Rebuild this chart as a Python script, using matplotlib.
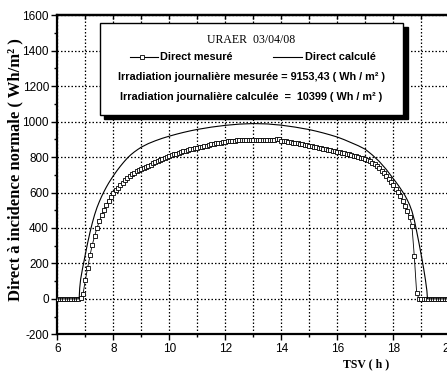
import numpy as np
import matplotlib
matplotlib.use("Agg")
import matplotlib.pyplot as plt
from matplotlib.patches import Rectangle
from matplotlib.lines import Line2D

plt.rcParams['axes.unicode_minus'] = False

# measured direct normal irradiance, one value every 5 min from 6h00 to 20h00
measured = [
    0, 0, 0, 0, 0, 0, 0, 0, 0, 0, 3, 25,
    105, 175, 245, 305, 355, 400, 437, 473, 502, 530, 552, 575,
    596, 612, 625, 640, 655, 668, 680, 692, 703, 712, 720, 727,
    733, 740, 746, 752, 758, 764, 770, 776, 782, 788, 794, 800,
    806, 811, 815, 820, 824, 828, 832, 836, 840, 843, 847, 850,
    853, 856, 859, 862, 865, 868, 871, 874, 877, 880, 882, 885,
    887, 889, 891, 892, 893, 894, 895, 896, 895, 897, 896, 897,
    896, 898, 897, 896, 898, 897, 896, 895, 894, 895, 900, 904,
    893, 889, 888, 886, 884, 881, 878, 877, 874, 871, 868, 866,
    863, 860, 858, 856, 853, 850, 848, 846, 842, 839, 836, 834,
    831, 827, 824, 822, 818, 815, 812, 808, 804, 800, 796, 792,
    788, 782, 776, 768, 760, 750, 738, 724, 708, 692, 676, 658,
    640, 622, 602, 578, 552, 525, 496, 460, 410, 240, 35, 0,
    0, 0, 0, 0, 0, 0, 0, 0, 0, 0, 0, 0,
    0,
]
hours_mes = 6 + np.arange(len(measured)) * 5 / 60

# calculated direct normal irradiance
calc_hours = [6.0, 6.78, 6.80, 6.833, 6.9, 6.95, 7.0, 7.083, 7.167, 7.25,
              7.333, 7.417, 7.5, 7.583, 7.667, 7.75, 7.833, 7.917, 8.0, 8.125,
              8.25, 8.375, 8.5, 8.625, 8.75, 8.875, 9.0, 9.25, 9.5, 9.75,
              10.0, 10.25, 10.5, 10.75, 11.0, 11.5, 12.0, 12.5, 13.0, 13.5,
              14.0, 14.5, 15.0, 15.25, 15.5, 15.75, 16.0, 16.25, 16.5, 16.75,
              17.0, 17.25, 17.5, 17.75, 18.0, 18.083, 18.167, 18.25, 18.333, 18.417,
              18.5, 18.583, 18.667, 18.75, 18.833, 18.917, 19.0, 19.083, 19.15, 19.2,
              19.22, 20.0]
calc_vals = [0, 0, 60, 110, 170, 210, 250, 315, 375, 428,
             475, 515, 548, 578, 605, 630, 653, 674, 694, 722,
             748, 772, 794, 813, 829, 843, 856, 876, 892, 906,
             918, 929, 939, 948, 956, 969, 979, 986, 989, 987,
             980, 969, 955, 946, 936, 925, 913, 898, 881, 864,
             844, 812, 775, 730, 678, 661, 643, 624, 604, 583,
             558, 530, 494, 445, 382, 315, 245, 172, 105, 45,
             0, 0]

W, H = 447, 372
fig = plt.figure(figsize=(W / 100, H / 100), dpi=100)
ax = fig.add_axes([57.3 / W, 1 - 334.3 / H, 392 / W, 319 / H])

ax.plot(hours_mes, measured, color='black', lw=0.6, marker='s', ms=2.8,
        mfc='white', mec='black', mew=0.6, zorder=3)
ax.plot(calc_hours, calc_vals, color='black', lw=0.8, zorder=4)

ax.set_xlim(6, 20)
ax.set_ylim(-200, 1600)
ax.set_xticks(range(6, 21, 2))
ax.set_xticks(range(7, 20, 2), minor=True)
ax.set_yticks(range(-200, 1601, 200))
ax.set_yticks(range(-100, 1600, 200), minor=True)

dots = (0, (1.2, 1.6))
ax.xaxis.grid(True, which='both', color='black', ls=dots, lw=0.9)
ax.yaxis.grid(True, which='major', color='black', ls=dots, lw=0.9)

for s in ['left', 'bottom', 'top']:
    ax.spines[s].set_linewidth(1.6)
ax.spines['right'].set_visible(False)
ax.tick_params(which='major', direction='out', length=4, width=1, pad=2,
               labelsize=8.5)
ax.tick_params(which='minor', direction='out', length=2.5, width=1)
for lab in ax.get_xticklabels() + ax.get_yticklabels():
    lab.set_family('Liberation Sans')

sec = ax.secondary_xaxis('top')
sec.set_xticks(range(6, 21))
sec.tick_params(direction='in', length=3, width=1, labeltop=False)
sec.spines['top'].set_linewidth(1.6)


def fx(px):
    return px / W


def fy(py):
    return 1 - py / H


# legend box with shadow
fig.add_artist(Rectangle((fx(104), fy(119)), fx(408) - fx(104), fy(27) - fy(119),
                         transform=fig.transFigure, facecolor='black',
                         edgecolor='black', zorder=5))
fig.add_artist(Rectangle((fx(100), fy(115)), fx(403) - fx(100), fy(23) - fy(115),
                         transform=fig.transFigure, facecolor='white',
                         edgecolor='black', lw=1, zorder=6))

fig.text(fx(251), fy(40), 'URAER  03/04/08', family='Liberation Serif',
         fontsize=8.5, ha='center', va='center', zorder=7)
fig.add_artist(Line2D([fx(130), fx(158)], [fy(57), fy(57)], color='black', lw=0.8,
                      transform=fig.transFigure, zorder=7))
fig.add_artist(Line2D([fx(142)], [fy(57)], marker='s', ms=2.8, mfc='white',
                      mec='black', mew=0.6, transform=fig.transFigure, zorder=8))
fig.text(fx(160), fy(57), 'Direct mesuré', family='Liberation Sans',
         weight='bold', fontsize=7.8, ha='left', va='center', zorder=7)
fig.add_artist(Line2D([fx(273), fx(302)], [fy(57), fy(57)], color='black', lw=0.8,
                      transform=fig.transFigure, zorder=7))
fig.text(fx(305), fy(57), 'Direct calculé', family='Liberation Sans',
         weight='bold', fontsize=7.8, ha='left', va='center', zorder=7)
fig.text(fx(251), fy(77), 'Irradiation journalière mesurée = 9153,43 ( Wh / m² )',
         family='Liberation Sans', weight='bold', fontsize=7.8,
         ha='center', va='center', zorder=7)
fig.text(fx(251), fy(97), 'Irradiation journalière calculée  =  10399 ( Wh / m² )',
         family='Liberation Sans', weight='bold', fontsize=7.8,
         ha='center', va='center', zorder=7)

fig.text(fx(366), fy(364), 'TSV ( h )', family='Liberation Serif', weight='bold',
         fontsize=8.5, ha='center', va='center')
fig.text(fx(15), fy(170), 'Direct à incidence normale ( Wh/m² )',
         family='Liberation Serif', weight='bold', fontsize=12, rotation=90,
         ha='center', va='center')

fig.savefig('out.png', dpi=100)
